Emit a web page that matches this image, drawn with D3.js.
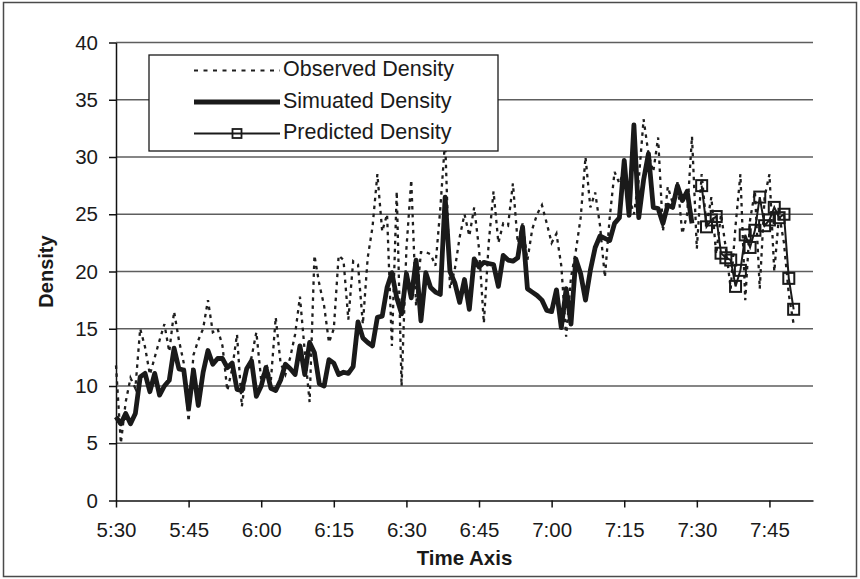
<!DOCTYPE html>
<html>
<head>
<meta charset="utf-8">
<script src="https://cdn.jsdelivr.net/npm/d3@7"></script>
<style>
  html, body { margin: 0; padding: 0; background: #fff; }
  svg text { font-family: "Liberation Sans", Arial, sans-serif; fill: #1a1a1a; }
</style>
</head>
<body>
<svg id="chart" width="860" height="579"></svg>
<script>
// Time axis: minutes after 5:30, one reading per minute
const tickMinutes = [0, 15, 30, 45, 60, 75, 90, 105, 120, 135];
const tickLabels = ["5:30", "5:45", "6:00", "6:15", "6:30", "6:45", "7:00", "7:15", "7:30", "7:45"];
const densityTicks = [0, 5, 10, 15, 20, 25, 30, 35, 40];

const seriesNames = ["Observed Density", "Simuated Density", "Predicted Density"];

// Observed density, minute 0 .. 140
const observedDensity = [
  11.8, 5.0, 8.6, 10.7, 9.8, 15.0, 13.4, 11.0, 12.5, 14.0,
  15.4, 13.0, 16.5, 14.0, 12.0, 6.9, 12.7, 14.0, 15.0, 17.5,
  14.7, 15.0, 13.5, 9.6, 11.5, 14.5, 8.2, 11.5, 12.5, 14.7,
  10.5, 12.0, 10.5, 16.0, 12.0, 11.0, 12.5, 14.5, 17.8, 13.0,
  8.6, 21.4, 18.9, 17.0, 13.8, 15.0, 21.4, 21.0, 15.8, 20.9,
  20.6, 15.4, 21.2, 23.9, 28.5, 23.5, 25.0, 13.5, 27.0, 10.0,
  22.0, 28.0, 17.0, 21.7, 21.7, 21.5, 20.5, 25.5, 31.5, 18.5,
  20.2, 23.0, 25.0, 23.1, 25.6, 22.0, 15.5, 22.5, 27.0, 22.5,
  24.2, 24.0, 27.7, 22.5, 24.2, 21.0, 23.7, 25.0, 25.8, 24.2,
  22.5, 23.3, 20.5, 14.3, 19.5, 21.8, 24.7, 30.0, 25.6, 26.9,
  24.0, 19.5, 24.7, 28.7, 27.7, 28.9, 26.5, 25.0, 28.0, 33.3,
  30.3, 28.7, 31.7, 23.5, 27.4, 26.0, 27.8, 23.3, 25.0, 31.8,
  22.0, 28.5, 24.0, 26.5, 21.5, 25.0, 22.0, 18.5, 24.0, 28.5,
  17.5, 24.5, 27.0, 18.5, 26.5, 28.5, 20.0, 25.0, 22.5, 18.0,
  15.4
];

// Simulated density, minute 0 .. 119
const simulatedDensity = [
  7.3, 6.7, 7.6, 6.7, 7.6, 10.8, 11.1, 9.5, 11.1, 9.2,
  10.0, 10.5, 13.3, 11.5, 11.4, 8.0, 11.4, 8.3, 11.2, 13.1,
  11.9, 12.4, 12.4, 11.6, 12.0, 9.7, 9.6, 11.5, 12.2, 9.1,
  10.0, 11.6, 9.8, 9.6, 10.5, 11.9, 11.5, 11.0, 13.5, 11.0,
  13.8, 12.9, 10.2, 10.0, 12.3, 12.0, 11.0, 11.2, 11.1, 11.7,
  15.6, 14.2, 13.8, 13.5, 16.0, 16.1, 18.6, 19.9, 17.7, 16.3,
  19.8, 17.7, 21.0, 15.7, 19.9, 18.6, 18.2, 18.0, 26.5, 20.0,
  19.0, 17.3, 19.3, 16.7, 21.1, 20.4, 20.8, 20.7, 20.6, 18.7,
  21.4, 21.0, 20.9, 21.2, 23.9, 18.5, 18.2, 17.9, 17.5, 16.6,
  16.5, 18.4, 15.1, 18.5, 15.4, 21.1, 19.8, 17.5, 20.1, 22.1,
  23.1, 22.9, 22.7, 24.2, 24.7, 29.7, 24.9, 32.8, 24.7, 28.0,
  30.3, 25.6, 25.5, 24.2, 25.8, 25.6, 27.5, 26.2, 27.0, 24.2
];

// Predicted density, minute 121 .. 140
const predictedStart = 121;
const predictedDensity = [
  27.5, 23.9, 24.5, 24.8, 21.6, 21.2, 21.0, 18.7, 20.1, 23.2,
  22.1, 23.6, 26.5, 24.0, 24.5, 25.6, 24.7, 25.0, 19.4, 16.7
];

const svg = d3.select("#chart");
const plotLeft = 116, plotRight = 813, plotTop = 42.5, plotBottom = 500.5;

const x = d3.scaleLinear().domain([0, 144]).range([plotLeft, plotRight]);
const y = d3.scaleLinear().domain([0, 40]).range([plotBottom, plotTop]);

// outer frame
svg.append("rect")
  .attr("x", 3.5).attr("y", 2.5).attr("width", 853).attr("height", 574)
  .attr("fill", "#fff").attr("stroke", "#4a4a4a").attr("stroke-width", 1.5);

// horizontal gridlines
svg.append("g").selectAll("line")
  .data(densityTicks.filter(d => d > 0))
  .join("line")
  .attr("x1", plotLeft).attr("x2", plotRight)
  .attr("y1", d => y(d)).attr("y2", d => y(d))
  .attr("stroke", "#5e5e5e").attr("stroke-width", 1.4);

// y axis
const yAxis = svg.append("g")
  .attr("transform", `translate(${plotLeft},0)`)
  .call(d3.axisLeft(y).tickValues(densityTicks).tickSize(7).tickSizeOuter(0).tickPadding(11));
yAxis.select(".domain").attr("stroke", "#111").attr("stroke-width", 1.5);
yAxis.selectAll(".tick line").attr("stroke", "#111").attr("stroke-width", 1.5);
yAxis.selectAll(".tick text").attr("font-size", 20.5).attr("fill", "#1a1a1a")
  .style("font-family", "'Liberation Sans', Arial, sans-serif");

// x axis
const xAxis = svg.append("g")
  .attr("transform", `translate(0,${plotBottom})`)
  .call(d3.axisBottom(x).tickValues(tickMinutes)
    .tickFormat((d, i) => tickLabels[i]).tickSize(7).tickSizeOuter(0).tickPadding(15));
xAxis.select(".domain").attr("stroke", "#111").attr("stroke-width", 1.5);
xAxis.selectAll(".tick line").attr("stroke", "#111").attr("stroke-width", 1.5);
xAxis.selectAll(".tick text").attr("font-size", 20.5).attr("fill", "#1a1a1a")
  .style("font-family", "'Liberation Sans', Arial, sans-serif");

// axis titles
svg.append("text")
  .attr("transform", `translate(48,${(plotTop + plotBottom) / 2}) rotate(-90)`)
  .attr("text-anchor", "middle").attr("dominant-baseline", "middle")
  .attr("font-size", 20).attr("font-weight", "bold")
  .text("Density");
svg.append("text")
  .attr("x", (plotLeft + plotRight) / 2).attr("y", 560)
  .attr("text-anchor", "middle").attr("dominant-baseline", "middle")
  .attr("font-size", 20.5).attr("font-weight", "bold")
  .text("Time Axis");

const line = d3.line().x(d => x(d.t)).y(d => y(d.v));
const obsPts = observedDensity.map((v, i) => ({ t: i, v }));
const simPts = simulatedDensity.map((v, i) => ({ t: i, v }));
const predPts = predictedDensity.map((v, i) => ({ t: predictedStart + i, v }));

const plot = svg.append("g");

// observed: dotted
plot.append("path").datum(obsPts)
  .attr("d", line).attr("fill", "none")
  .attr("stroke", "#1e1e1e").attr("stroke-width", 2.3)
  .attr("stroke-dasharray", "3.5,4.5");

// simulated: thick solid
plot.append("path").datum(simPts)
  .attr("d", line).attr("fill", "none")
  .attr("stroke", "#1a1a1a").attr("stroke-width", 4.8)
  .attr("stroke-linejoin", "round");

// predicted: thin line with hollow squares
plot.append("path").datum(predPts)
  .attr("d", line).attr("fill", "none")
  .attr("stroke", "#1a1a1a").attr("stroke-width", 2);
const sq = 11;
plot.append("g").selectAll("rect")
  .data(predPts)
  .join("rect")
  .attr("x", d => x(d.t) - sq / 2).attr("y", d => y(d.v) - sq / 2)
  .attr("width", sq).attr("height", sq)
  .attr("fill", "none").attr("stroke", "#1a1a1a").attr("stroke-width", 2);

// legend
const lg = svg.append("g");
lg.append("rect")
  .attr("x", 149).attr("y", 55).attr("width", 349).attr("height", 96)
  .attr("fill", "#fff").attr("stroke", "#1a1a1a").attr("stroke-width", 1.3);
const rowY = [70.5, 102, 133.5];
const lx1 = 194, lx2 = 280, tx = 283;
lg.append("line").attr("x1", lx1).attr("x2", lx2).attr("y1", rowY[0]).attr("y2", rowY[0])
  .attr("stroke", "#1e1e1e").attr("stroke-width", 2.2).attr("stroke-dasharray", "4,5.5");
lg.append("line").attr("x1", lx1).attr("x2", lx2).attr("y1", rowY[1]).attr("y2", rowY[1])
  .attr("stroke", "#1a1a1a").attr("stroke-width", 4.8);
lg.append("line").attr("x1", lx1).attr("x2", lx2).attr("y1", rowY[2]).attr("y2", rowY[2])
  .attr("stroke", "#1a1a1a").attr("stroke-width", 1.8);
lg.append("rect")
  .attr("x", (lx1 + lx2) / 2 - 4.5).attr("y", rowY[2] - 4.5).attr("width", 9).attr("height", 9)
  .attr("fill", "none").attr("stroke", "#1a1a1a").attr("stroke-width", 1.8);
lg.selectAll("text.lbl")
  .data(seriesNames)
  .join("text")
  .attr("class", "lbl")
  .attr("x", tx).attr("y", (d, i) => rowY[i])
  .attr("dominant-baseline", "middle")
  .attr("font-size", 21.5)
  .text(d => d);
</script>
</body>
</html>
